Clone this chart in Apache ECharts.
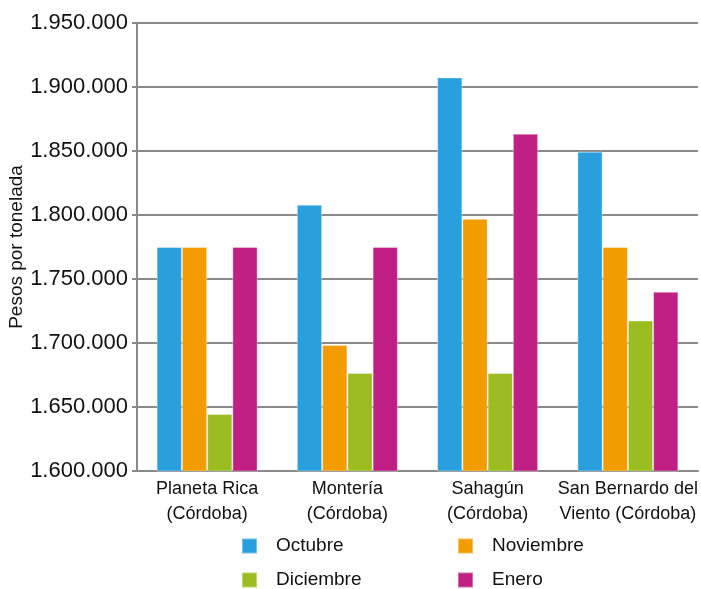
<!DOCTYPE html>
<html>
<head>
<meta charset="utf-8">
<script src="https://cdn.jsdelivr.net/npm/echarts@6/dist/echarts.min.js"></script>
<style>html,body{margin:0;padding:0;background:#fff}#c{width:701px;height:589px}</style>
</head>
<body>
<div id="c"></div>
<script>
var categories = ['Planeta Rica\n(Córdoba)', 'Montería\n(Córdoba)', 'Sahagún\n(Córdoba)', 'San Bernardo del\nViento (Córdoba)'];
var octubre   = [1775000, 1808000, 1907500, 1849500];
var noviembre = [1775000, 1698500, 1797000, 1775000];
var diciembre = [1644500, 1676500, 1676500, 1717500];
var enero     = [1775000, 1775000, 1863500, 1740000];
var yTicks = { min: 1600000, max: 1950000, step: 50000 };

var colors = ['#299fde', '#f29c00', '#9bbd22', '#c02083'];
var font = 'Liberation Sans, Arial, sans-serif';
function fmt(v){ return String(v).replace(/\B(?=(\d{3})+(?!\d))/g, '.'); }

var chart = echarts.init(document.getElementById('c'));
function bar(name, data, color){
  return { name: name, type: 'bar', data: data, barGap: '0%', barCategoryGap: '28%',
    itemStyle: { color: color, borderColor: 'rgba(255,255,255,0.35)', borderWidth: 1 } };
}
var legendText = { fontFamily: font, fontSize: 19, color: '#111', lineHeight: 20, padding: [4,0,0,14] };
chart.setOption({
  animation: false,
  grid: { left: 137, right: 3, top: 23, bottom: 118, containLabel: false, outerBoundsMode: 'none' },
  legend: [
    { orient: 'vertical', left: 241, top: 534, padding: 0, height: 80, itemWidth: 15, itemHeight: 15, itemGap: 10, icon: 'rect',
      data: ['Octubre', 'Diciembre'], textStyle: legendText },
    { orient: 'vertical', left: 457, top: 534, padding: 0, height: 80, itemWidth: 15, itemHeight: 15, itemGap: 10, icon: 'rect',
      data: ['Noviembre', 'Enero'], textStyle: legendText }
  ],
  xAxis: {
    type: 'category', data: categories,
    axisLine: { lineStyle: { color: '#8a8a8a', width: 2 } },
    axisTick: { show: false },
    axisLabel: { fontFamily: font, fontSize: 18, color: '#111', lineHeight: 25, margin: 6, interval: 0 }
  },
  yAxis: {
    type: 'value', min: yTicks.min, max: yTicks.max, interval: yTicks.step,
    name: 'Pesos por tonelada', nameLocation: 'middle', nameGap: 111, nameMoveOverlap: false,
    nameTextStyle: { fontFamily: font, fontSize: 19, color: '#111' },
    axisLine: { show: true, lineStyle: { color: '#8a8a8a', width: 2 } },
    axisTick: { show: true, length: 5, lineStyle: { color: '#8a8a8a', width: 2 } },
    splitLine: { lineStyle: { color: '#8a8a8a', width: 2 } },
    axisLabel: { fontFamily: font, fontSize: 22, color: '#111', margin: 9, formatter: fmt }
  },
  series: [
    bar('Octubre', octubre, colors[0]),
    bar('Noviembre', noviembre, colors[1]),
    bar('Diciembre', diciembre, colors[2]),
    bar('Enero', enero, colors[3])
  ]
});
</script>
</body>
</html>
